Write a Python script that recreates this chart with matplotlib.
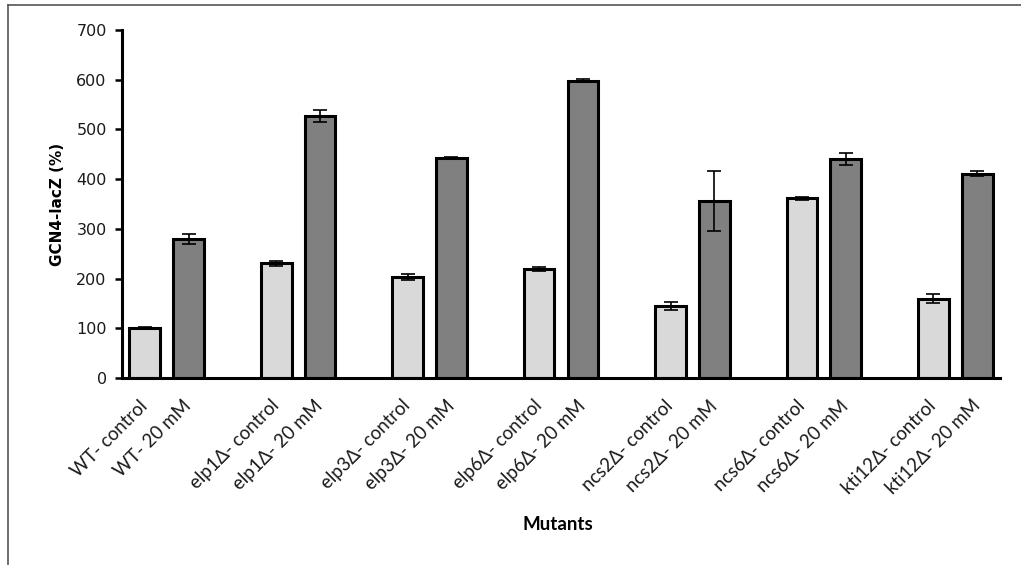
import matplotlib
matplotlib.use("Agg")
import matplotlib.pyplot as plt
from matplotlib.lines import Line2D

strains = ["WT", "elp1Δ", "elp3Δ", "elp6Δ", "ncs2Δ", "ncs6Δ", "kti12Δ"]
conditions = ["control", "20 mM"]

control_mean = [100, 231, 203, 219, 145, 362, 159]
control_err = [2, 5, 6, 4, 8, 3, 9]
treated_mean = [279, 527, 442, 598, 356, 440, 411]
treated_err = [10, 13, 2, 3, 60, 12, 5]

light = "#d9d9d9"
dark = "#808080"

fig = plt.figure(figsize=(10.21, 5.65), dpi=100)
ax = fig.add_axes([122 / 1021, 1 - 378 / 565, (1000 - 122) / 1021, (378 - 30) / 565])

# two bars per strain, one empty slot between strains
ctrl_x = [3 * i for i in range(len(strains))]
trt_x = [3 * i + 1 for i in range(len(strains))]

bar_kw = dict(width=0.7, edgecolor="black", linewidth=2.2, zorder=2)
err_kw = dict(elinewidth=1.2, capthick=1.2, capsize=5, ecolor="black")
ax.bar(ctrl_x, control_mean, color=light, yerr=control_err, error_kw=err_kw, **bar_kw)
ax.bar(trt_x, treated_mean, color=dark, yerr=treated_err, error_kw=err_kw, **bar_kw)

ticks = []
labels = []
for i, s in enumerate(strains):
    for j, c in enumerate(conditions):
        ticks.append(3 * i + j)
        labels.append(f"{s}- {c}")

ax.set_xticks(ticks)
ax.set_xticklabels(labels, rotation=45, ha="right", va="center", rotation_mode="anchor",
                   fontsize=13.4, family="Lato", color="#1a1a1a")
ax.tick_params(axis="x", length=0, pad=18)
ax.set_xlim(-0.52, 19.52)

ax.set_ylim(0, 700)
ax.set_yticks(range(0, 701, 100))
ax.tick_params(axis="y", direction="out", length=5, width=1.8, labelsize=11.5,
               colors="black", labelcolor="#1a1a1a", pad=6)

for side in ("top", "right"):
    ax.spines[side].set_visible(False)
for side in ("left", "bottom"):
    ax.spines[side].set_linewidth(2.2)

ax.set_ylabel("GCN4-lacZ (%)", fontsize=11, fontweight="bold", family="DejaVu Sans",
              labelpad=8)
fig.text(558 / 1021, 1 - 525 / 565, "Mutants", ha="center", va="center",
         fontsize=13.5, fontweight="bold", family="Lato")

# outer frame: left and top edges
fig.add_artist(Line2D([8 / 1021, 8 / 1021], [0, 1 - 5 / 565], transform=fig.transFigure,
                      color="#555555", linewidth=1.2))
fig.add_artist(Line2D([8 / 1021, 1], [1 - 5 / 565, 1 - 5 / 565], transform=fig.transFigure,
                      color="#555555", linewidth=1.2))

fig.savefig("out.png", dpi=100)
